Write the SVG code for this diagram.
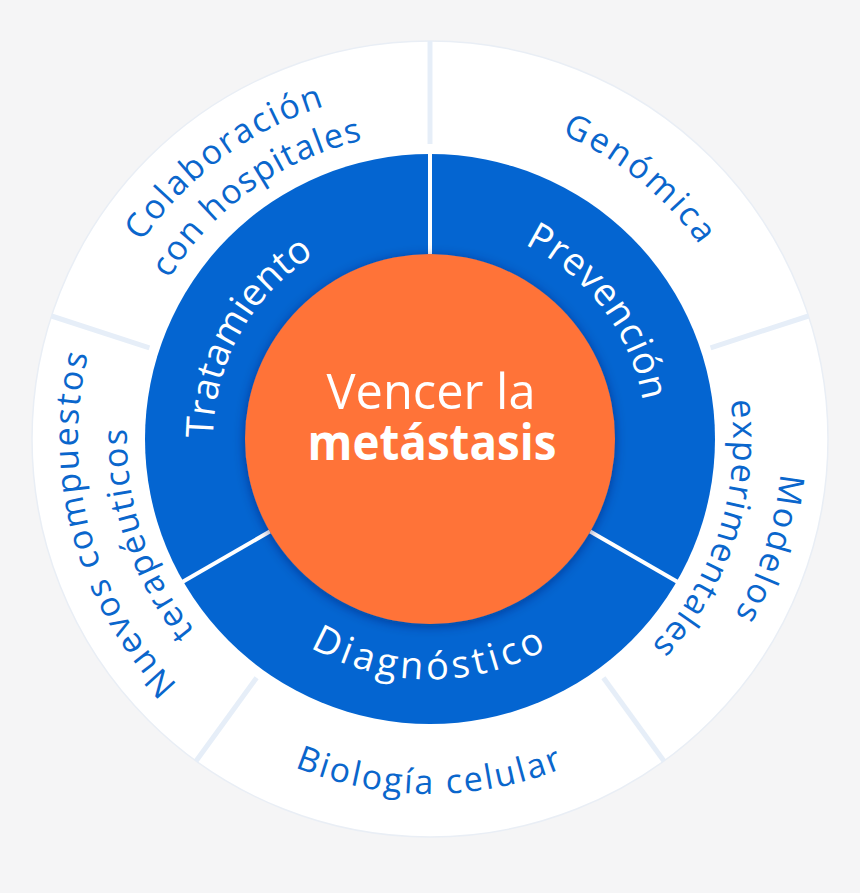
<svg xmlns="http://www.w3.org/2000/svg" xmlns:xlink="http://www.w3.org/1999/xlink" width="860" height="893" viewBox="0 0 860 893">
<style>
.inner { font-family: "Open Sans", "Noto Sans", sans-serif; font-size: 38px; fill: #ffffff; }
.outer { font-family: "Open Sans", "Noto Sans", sans-serif; font-size: 34px; fill: #0A66CC; }
.center { font-family: "Open Sans", "Noto Sans", sans-serif; font-size: 50px; fill: #ffffff; text-anchor: middle; }
.idiv { stroke: #ffffff; stroke-width: 4; }
.odiv { stroke: #E6EEF8; stroke-width: 5; }
</style>
<defs>
<filter id="sh" x="-20%" y="-20%" width="140%" height="140%">
<feDropShadow dx="0" dy="2" stdDeviation="6" flood-color="#001a4d" flood-opacity="0.45"/>
</filter>
<path id="pTrat" d="M293.4,607.6 A217,217 0 0 1 500.6,233.8"/>
<path id="pPrev" d="M331.9,246.5 A216,216 0 0 1 588.0,586.3"/>
<path id="pDiag" d="M193.6,480.7 A240,240 0 0 0 666.4,480.7"/>
<path id="pCola" d="M117.7,594.7 A349,349 0 0 1 670.3,185.8"/>
<path id="pHosp" d="M153.8,570.7 A306,306 0 0 1 644.5,220.7"/>
<path id="pGeno" d="M212.2,188.4 A332,332 0 0 1 720.4,600.0"/>
<path id="pMode" d="M595.3,128.2 A352,352 0 0 1 381.0,787.6"/>
<path id="pExpe" d="M572.3,171.5 A303,303 0 0 1 387.8,739.1"/>
<path id="pNuev" d="M460.7,789.7 A352,352 0 0 1 281.2,120.0"/>
<path id="pTera" d="M474.8,738.7 A303,303 0 0 1 285.4,172.7"/>
<path id="pBiol" d="M80.4,500.6 A355,355 0 0 0 779.6,500.6"/>
</defs>
<rect width="860" height="893" fill="#F5F5F6"/>

<g id="outer-ring">
<circle cx="430" cy="439" r="398" fill="#ffffff" stroke="#E9EEF5" stroke-width="1.5"/>
</g>
<g id="inner-ring">
<circle cx="430" cy="439" r="285" fill="#0465D1"/>
</g>

<g id="connectors">
<line class="odiv" x1="430" y1="144" x2="430" y2="41"/>
<line class="odiv" x1="710.6" y1="347.8" x2="808.5" y2="316.0"/>
<line class="odiv" x1="149.4" y1="347.8" x2="51.5" y2="316.0"/>
<line class="odiv" x1="603.4" y1="677.7" x2="663.9" y2="761.0"/>
<line class="odiv" x1="256.6" y1="677.7" x2="196.1" y2="761.0"/>
<line class="idiv" x1="430" y1="254" x2="430" y2="153"/>
<line class="idiv" x1="269.8" y1="531.5" x2="182.3" y2="582"/>
<line class="idiv" x1="590.2" y1="531.5" x2="677.7" y2="582"/>
</g>

<g id="center">
<circle cx="430" cy="439" r="185" fill="#FF7337" filter="url(#sh)"/>
<text class="center" x="431" y="409" textLength="209" lengthAdjust="spacingAndGlyphs">Vencer la</text>
<text class="center" x="432" y="460" font-weight="bold" textLength="249" lengthAdjust="spacingAndGlyphs">metástasis</text>
</g>

<g id="tratamiento">
<text class="inner" letter-spacing="0"><textPath xlink:href="#pTrat" href="#pTrat" startOffset="50%" text-anchor="middle">Tratamiento</textPath></text>
</g>
<g id="prevencion">
<text class="inner" letter-spacing="0.7"><textPath xlink:href="#pPrev" href="#pPrev" startOffset="50%" text-anchor="middle">Prevención</textPath></text>
</g>
<g id="diagnostico">
<text class="inner" letter-spacing="4"><textPath xlink:href="#pDiag" href="#pDiag" startOffset="50%" text-anchor="middle">Diagnóstico</textPath></text>
</g>

<g id="colaboracion">
<text class="outer" letter-spacing="2"><textPath xlink:href="#pCola" href="#pCola" startOffset="50%" text-anchor="middle">Colaboración</textPath></text>
<text class="outer" letter-spacing="1.25"><textPath xlink:href="#pHosp" href="#pHosp" startOffset="50%" text-anchor="middle">con hospitales</textPath></text>
</g>
<g id="genomica">
<text class="outer" letter-spacing="2.7"><textPath xlink:href="#pGeno" href="#pGeno" startOffset="50%" text-anchor="middle">Genómica</textPath></text>
</g>
<g id="modelos">
<text class="outer" letter-spacing="2.3"><textPath xlink:href="#pMode" href="#pMode" startOffset="50%" text-anchor="middle">Modelos</textPath></text>
<text class="outer" letter-spacing="1.6"><textPath xlink:href="#pExpe" href="#pExpe" startOffset="50%" text-anchor="middle">experimentales</textPath></text>
</g>
<g id="biologia">
<text class="outer" letter-spacing="2.3"><textPath xlink:href="#pBiol" href="#pBiol" startOffset="50%" text-anchor="middle">Biología celular</textPath></text>
</g>
<g id="compuestos">
<text class="outer" letter-spacing="2.2"><textPath xlink:href="#pNuev" href="#pNuev" startOffset="50%" text-anchor="middle">Nuevos compuestos</textPath></text>
<text class="outer" letter-spacing="1.7"><textPath xlink:href="#pTera" href="#pTera" startOffset="50%" text-anchor="middle">terapéuticos</textPath></text>
</g>
</svg>
